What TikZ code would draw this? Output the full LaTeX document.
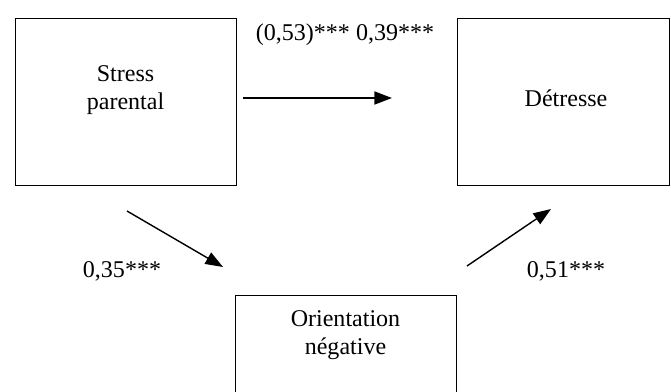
\documentclass[tikz,border=0pt]{standalone}
\usepackage{fontspec}
\setmainfont{Liberation Serif}
\usetikzlibrary{positioning,calc,arrows.meta}

\begin{document}
\begin{tikzpicture}[x=0.03cm,y=-0.03cm]
            \tikzset{
                cadre/.style={line width=0.8pt},
                texte/.style={align=center,font=\fontsize{20.5}{24}\selectfont},
                fleche/.style={line width=1.2pt,-{Triangle[length=15pt,width=11pt]}},}
            \clip (0,0) rectangle (671,391);
            \node[texte] (stress) at (125.5,90) {Stress\\parental};
            \draw[cadre] (stress.center) ++(-110.5,-72) rectangle ++(221,167);
            \node[texte] (detresse) at (566,98) {Détresse};
            \draw[cadre] (detresse.center) ++(-109,-80) rectangle ++(212,167);
            \node[texte] (orient) at (345.5,335) {Orientation\\négative};
            \draw[cadre] (orient.center) ++(-110.5,-40) rectangle ++(221,130);
            % bouts des fleches
            \coordinate (a1) at (243,98);  \coordinate (a2) at (392,98);
            \coordinate (b1) at (127,211); \coordinate (b2) at (223,267);
            \coordinate (c1) at (467,266); \coordinate (c2) at (551,209);
            \draw[fleche,line width=1.7pt] (a1) -- (a2);
            \draw[fleche] (b1) -- (b2);
            \draw[fleche] (c1) -- (c2);
            \node[texte] (lab1) at (345,35) {(0,53)*** 0,39***};
            \node[texte] (lab2) at (122,271) {0,35***};
            \node[texte] (lab3) at (566,271) {0,51***};
        \end{tikzpicture}
\end{document}
